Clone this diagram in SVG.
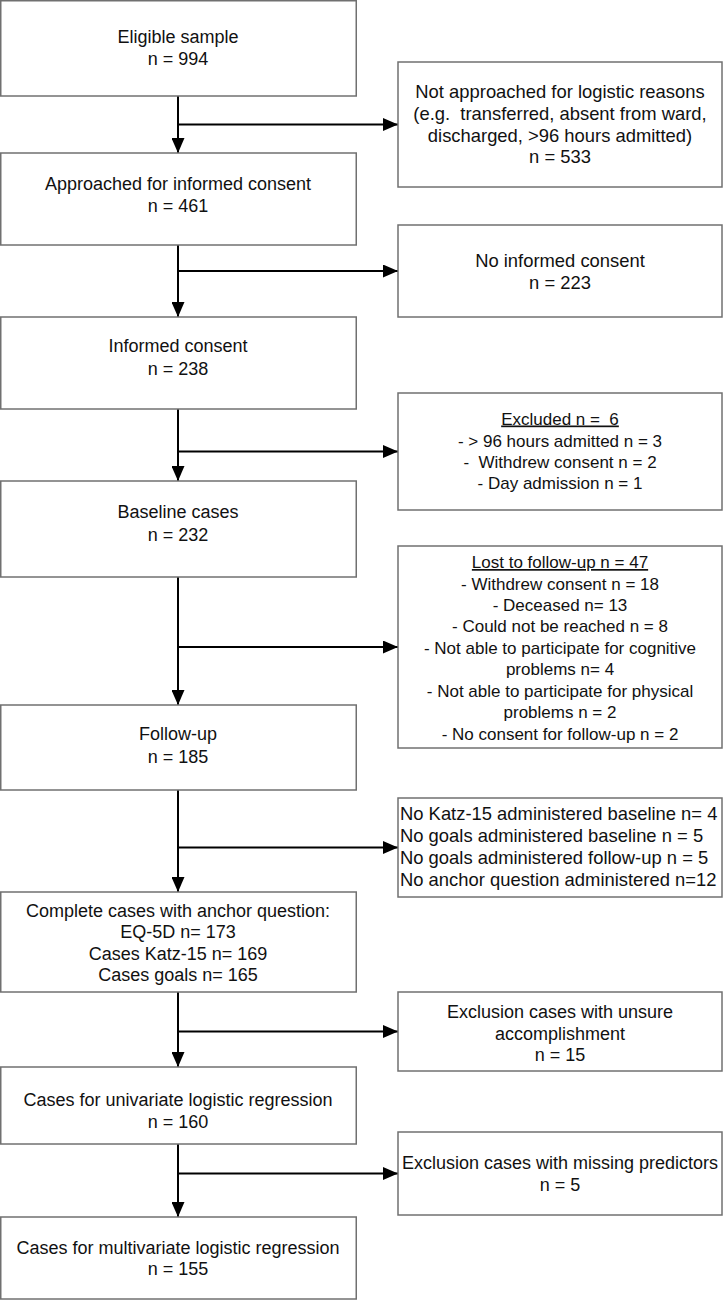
<svg xmlns="http://www.w3.org/2000/svg" width="726" height="1300" viewBox="0 0 726 1300">
<defs>
<marker id="ah" viewBox="0 0 15 13" refX="15" refY="6.5" markerWidth="15" markerHeight="13" markerUnits="userSpaceOnUse" orient="auto">
<path d="M0,0 L15,6.5 L0,13 z" fill="#000"/>
</marker>
<style>
rect{fill:#fff;stroke:#707070;stroke-width:1.5}
.n{font-family:"Liberation Sans",Arial,sans-serif;font-size:18px;fill:#111;text-anchor:middle}
.w{font-size:18.4px}
.r{font-family:"Liberation Sans",Arial,sans-serif;font-size:17px;fill:#111;text-anchor:middle}
.l{text-anchor:start}
.c line{stroke:#000;stroke-width:2;fill:none}
</style>
</defs>
<rect x="0" y="0" width="726" height="1300" fill="#fff" style="stroke:none"/>
<g class="c">
<line x1="178" y1="96" x2="178" y2="153" marker-end="url(#ah)"/>
<line x1="178" y1="124.5" x2="398" y2="124.5" marker-end="url(#ah)"/>
<line x1="178" y1="245" x2="178" y2="317" marker-end="url(#ah)"/>
<line x1="178" y1="271" x2="398" y2="271" marker-end="url(#ah)"/>
<line x1="178" y1="409" x2="178" y2="481" marker-end="url(#ah)"/>
<line x1="178" y1="451.5" x2="398" y2="451.5" marker-end="url(#ah)"/>
<line x1="178" y1="577" x2="178" y2="705" marker-end="url(#ah)"/>
<line x1="178" y1="647" x2="398" y2="647" marker-end="url(#ah)"/>
<line x1="178" y1="790" x2="178" y2="892" marker-end="url(#ah)"/>
<line x1="178" y1="847.5" x2="398" y2="847.5" marker-end="url(#ah)"/>
<line x1="178" y1="992" x2="178" y2="1067" marker-end="url(#ah)"/>
<line x1="178" y1="1031.5" x2="398" y2="1031.5" marker-end="url(#ah)"/>
<line x1="178" y1="1144" x2="178" y2="1217" marker-end="url(#ah)"/>
<line x1="178" y1="1173.5" x2="398" y2="1173.5" marker-end="url(#ah)"/>
</g>
<g id="eligible"><rect x="0.75" y="0.75" width="355.5" height="95.25"/>
<text class="n" x="178" y="43">Eligible sample</text><text class="n" x="178" y="65">n = 994</text></g>
<g id="notapproached"><rect x="398" y="62" width="324" height="125"/>
<text class="n w" x="560" y="98">Not approached for logistic reasons</text>
<text class="n w" x="560" y="120" xml:space="preserve">(e.g.  transferred, absent from ward,</text>
<text class="n w" x="560" y="141.5">discharged, &gt;96 hours admitted)</text>
<text class="n w" x="560" y="163">n = 533</text></g>
<g id="approached"><rect x="0.75" y="153" width="355.5" height="92"/>
<text class="n" x="178" y="190">Approached for informed consent</text><text class="n" x="178" y="212">n = 461</text></g>
<g id="noconsent"><rect x="398" y="225" width="324" height="92"/>
<text class="n w" x="560" y="266.5">No informed consent</text><text class="n w" x="560" y="288.5">n = 223</text></g>
<g id="consent"><rect x="0.75" y="317" width="355.5" height="92"/>
<text class="n" x="178" y="352">Informed consent</text><text class="n" x="178" y="375">n = 238</text></g>
<g id="excluded"><rect x="398" y="393" width="324" height="117"/>
<text class="r" x="560" y="424.5" text-decoration="underline" xml:space="preserve">Excluded n =  6</text>
<text class="r" x="560" y="446.5">- &gt; 96 hours admitted n = 3</text>
<text class="r" x="560" y="468" xml:space="preserve">-  Withdrew consent n = 2</text>
<text class="r" x="560" y="489">- Day admission n = 1</text></g>
<g id="baseline"><rect x="0.75" y="481" width="355.5" height="96"/>
<text class="n" x="178" y="518">Baseline cases</text><text class="n" x="178" y="541">n = 232</text></g>
<g id="lost"><rect x="398" y="546" width="324" height="202"/>
<text class="r" x="560" y="568" text-decoration="underline">Lost to follow-up n = 47</text>
<text class="r" x="560" y="589.5">- Withdrew consent n = 18</text>
<text class="r" x="560" y="611">- Deceased n= 13</text>
<text class="r" x="560" y="632">- Could not be reached n = 8</text>
<text class="r" x="560" y="653.5">- Not able to participate for cognitive</text>
<text class="r" x="560" y="675">problems n= 4</text>
<text class="r" x="560" y="696.5">- Not able to participate for physical</text>
<text class="r" x="560" y="718">problems n = 2</text>
<text class="r" x="560" y="739.5">- No consent for follow-up n = 2</text></g>
<g id="followup"><rect x="0.75" y="705" width="355.5" height="85"/>
<text class="n" x="178" y="740">Follow-up</text><text class="n" x="178" y="763">n = 185</text></g>
<g id="missing"><rect x="398" y="798" width="324" height="99"/>
<text class="n w l" x="400" y="820">No Katz-15 administered baseline n= 4</text>
<text class="n w l" x="400" y="842">No goals administered baseline n = 5</text>
<text class="n w l" x="400" y="864">No goals administered follow-up n = 5</text>
<text class="n w l" x="400" y="886">No anchor question administered n=12</text></g>
<g id="complete"><rect x="0.75" y="892" width="355.5" height="100"/>
<text class="n" x="178" y="917">Complete cases with anchor question:</text>
<text class="n" x="178" y="938">EQ-5D n= 173</text>
<text class="n" x="178" y="959.5">Cases Katz-15 n= 169</text>
<text class="n" x="178" y="980.5">Cases goals n= 165</text></g>
<g id="unsure"><rect x="398" y="992" width="324" height="79"/>
<text class="n" x="560" y="1017.5">Exclusion cases with unsure</text>
<text class="n" x="560" y="1039.5">accomplishment</text>
<text class="n" x="560" y="1060.5">n = 15</text></g>
<g id="univariate"><rect x="0.75" y="1067" width="355.5" height="77"/>
<text class="n" x="178" y="1106">Cases for univariate logistic regression</text>
<text class="n" x="178" y="1127.5">n = 160</text></g>
<g id="predictors"><rect x="398" y="1132" width="324" height="83"/>
<text class="n" x="560" y="1169">Exclusion cases with missing predictors</text>
<text class="n" x="560" y="1191">n = 5</text></g>
<g id="multivariate"><rect x="0.75" y="1217" width="355.5" height="82"/>
<text class="n" x="178" y="1254">Cases for multivariate logistic regression</text>
<text class="n" x="178" y="1275">n = 155</text></g>
</svg>
